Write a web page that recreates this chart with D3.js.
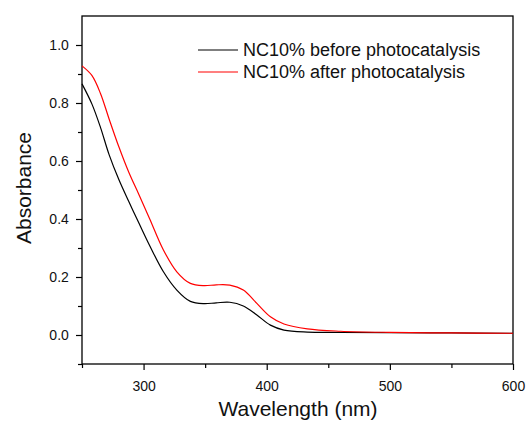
<!DOCTYPE html>
<html lang="en">
<head>
    <meta charset="UTF-8">
    <title>Absorbance spectra NC10%</title>
    <script src="https://d3js.org/d3.v7.min.js"></script>
    <style>
        body { margin: 0; background: #fff; }
        text { font-family: Arial, "Liberation Sans", sans-serif; }
    </style>
</head>
<body>
    <script>
        // wavelengths (nm) and absorbance
        const wavelengths = [250, 258, 265, 272, 280, 288, 296, 305, 316, 327, 338, 349, 359, 370, 381, 392, 403, 414, 433, 460, 500, 550, 600];
        const before = [0.866, 0.797, 0.716, 0.622, 0.535, 0.460, 0.388, 0.308, 0.219, 0.155, 0.116, 0.108, 0.111, 0.113, 0.100, 0.069, 0.034, 0.017, 0.010, 0.009, 0.008, 0.007, 0.006];
        const after = [0.928, 0.895, 0.833, 0.745, 0.648, 0.561, 0.486, 0.400, 0.294, 0.218, 0.178, 0.170, 0.173, 0.172, 0.155, 0.109, 0.063, 0.038, 0.021, 0.013, 0.009, 0.007, 0.006];
        const seriesNames = ["NC10% before photocatalysis", "NC10% after photocatalysis"];
        const seriesColors = ["#000000", "#ff0000"];
        const xTicks = [300, 400, 500, 600];
        const yTicks = [0.0, 0.2, 0.4, 0.6, 0.8, 1.0];

        const width = 528, height = 424;
        const margin = { left: 82, right: 15, top: 16, bottom: 60 };

        const svg = d3.select("body")
            .append("svg")
            .attr("width", width)
            .attr("height", height);

        const x = d3.scaleLinear().domain([250, 600]).range([margin.left, width - margin.right]);
        const y = d3.scaleLinear().domain([-0.1, 1.1]).range([height - margin.bottom, margin.top]);

        // frame
        svg.append("rect")
            .attr("x", margin.left)
            .attr("y", margin.top)
            .attr("width", width - margin.left - margin.right)
            .attr("height", height - margin.top - margin.bottom)
            .attr("fill", "none")
            .attr("stroke", "#000")
            .attr("stroke-width", 1.3);

        // x axis: major ticks with labels, minor ticks in between
        const xAxis = svg.append("g")
            .attr("transform", `translate(0,${height - margin.bottom})`)
            .call(d3.axisBottom(x).tickValues(xTicks).tickSize(6).tickFormat(d3.format("d")));
        svg.append("g")
            .attr("transform", `translate(0,${height - margin.bottom})`)
            .call(d3.axisBottom(x).tickValues([250, 350, 450, 550]).tickSize(4).tickFormat(""));

        // y axis
        const yAxis = svg.append("g")
            .attr("transform", `translate(${margin.left},0)`)
            .call(d3.axisLeft(y).tickValues(yTicks).tickSize(6).tickFormat(d3.format(".1f")));
        svg.append("g")
            .attr("transform", `translate(${margin.left},0)`)
            .call(d3.axisLeft(y).tickValues([-0.1, 0.1, 0.3, 0.5, 0.7, 0.9]).tickSize(4).tickFormat(""));

        svg.selectAll(".domain").remove();
        svg.selectAll(".tick line").attr("stroke", "#000").attr("stroke-width", 1.2);
        svg.selectAll(".tick text")
            .attr("font-size", "14px")
            .attr("font-family", "Arial, 'Liberation Sans', sans-serif")
            .attr("fill", "#111");
        xAxis.selectAll(".tick text").attr("dy", "1.3em");
        yAxis.selectAll(".tick text").attr("dx", "-0.3em");

        // axis titles
        svg.append("text")
            .attr("x", 298)
            .attr("y", 416)
            .attr("text-anchor", "middle")
            .attr("font-size", "21px")
            .attr("fill", "#111")
            .text("Wavelength (nm)");

        svg.append("text")
            .attr("transform", `translate(31,${y(0.5) - 2}) rotate(-90)`)
            .attr("text-anchor", "middle")
            .attr("font-size", "21px")
            .attr("fill", "#111")
            .text("Absorbance");

        // curves
        const line = d3.line()
            .x(d => x(d[0]))
            .y(d => y(d[1]))
            .curve(d3.curveCatmullRom.alpha(0.5));

        [before, after].forEach((vals, i) => {
            svg.append("path")
                .datum(wavelengths.map((w, j) => [w, vals[j]]))
                .attr("d", line)
                .attr("fill", "none")
                .attr("stroke", seriesColors[i])
                .attr("stroke-width", 1.2);
        });

        // legend
        seriesNames.forEach((name, i) => {
            const ly = 50 + i * 22;
            svg.append("line")
                .attr("x1", 198).attr("x2", 238)
                .attr("y1", ly).attr("y2", ly)
                .attr("stroke", seriesColors[i])
                .attr("stroke-width", 1.2);
            svg.append("text")
                .attr("x", 243)
                .attr("y", ly + 6)
                .attr("font-size", "18px")
                .attr("fill", "#111")
                .text(name);
        });
    </script>
</body>
</html>
